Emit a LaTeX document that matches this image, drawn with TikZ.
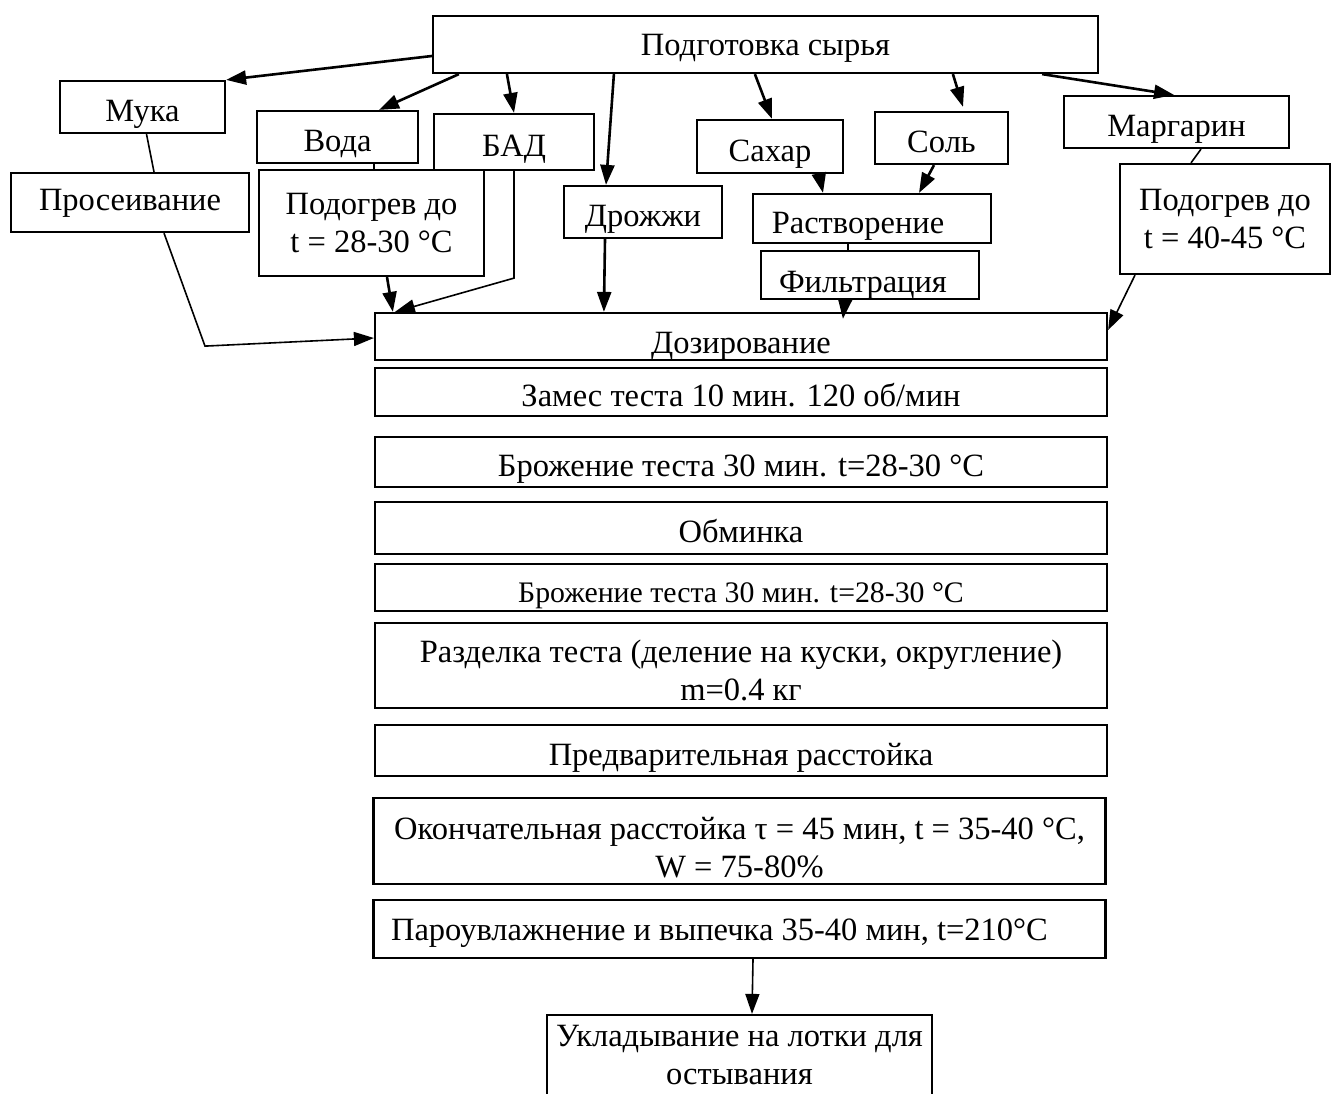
\documentclass[tikz,border=0pt]{standalone}
\usepackage{fontspec}
\setmainfont{Liberation Serif}
\usetikzlibrary{arrows.meta}

\begin{document}
\begin{tikzpicture}[x=1pt,y=-1pt,->,>={Triangle[length=20pt,width=14pt]},line width=2.6pt,
    box/.style={draw,line width=2.2pt,inner sep=2pt,align=center,font=\fontsize{32.5}{38}\selectfont},
    one line/.style={box,text height=29pt,text depth=0pt},
    wide box/.style={one line,minimum width=732pt},
    thin/.style={line width=1.6pt}]

            \useasboundingbox (0,0) rectangle (1332,1093);

            \node[one line, minimum width=665pt, minimum height=57pt, text height=22pt] (prep) at (765.5,44.5) {Подготовка сырья};
            \node[one line, minimum width=165pt, minimum height=52pt] (muka) at (142.5,107) {Мука};
            \node[one line, minimum width=161pt, minimum height=52pt] (voda) at (337.5,137) {Вода};
            \node[one line, minimum width=160pt, minimum height=56pt] (bad) at (514,142) {БАД};
            \node[one line, minimum width=238pt, minimum height=59pt, text height=15pt] (sift) at (130,202.5) {Просеивание};
            \node[box, minimum width=225pt, minimum height=106pt] (heatw) at (371.5,223) {Подогрев до\\t = 28-30 °C};
            \node[one line, minimum width=158pt, minimum height=52pt] (yeast) at (643,212) {Дрожжи};
            \node[one line, minimum width=146pt, minimum height=53pt] (sugar) at (770,146.5) {Сахар};
            \node[one line, minimum width=133pt, minimum height=52pt] (salt) at (941.5,138) {Соль};
            \node[one line, minimum width=225pt, minimum height=52pt] (marg) at (1176.5,122) {Маргарин};
            \node[box, minimum width=210pt, minimum height=110pt] (heatm) at (1225,219) {Подогрев до\\t = 40-45 °C};
            \node[one line, minimum width=238pt, minimum height=49pt] (diss) at (872,218.5) {Растворение\hspace*{28pt}};
            \node[one line, minimum width=218pt, minimum height=48pt, text height=34pt] (filt) at (870,275) {Фильтрация\hspace*{14pt}};

            % technological line
            \node[wide box, minimum height=47pt, text height=33pt] (dos) at (741,336.5) {Дозирование};
            \node[wide box, minimum height=48pt] (mix) at (741,392) {Замес теста 10 мин. 120 об/мин};
            \node[wide box, minimum height=50pt] (ferm1) at (741,462) {Брожение теста 30 мин. t=28-30 °C};
            \node[wide box, minimum height=52pt] (punch) at (741,528) {Обминка};
            \node[wide box, minimum height=47pt, font=\fontsize{29.8}{34}\selectfont] (ferm2) at (741,587.5) {Брожение теста 30 мин. t=28-30 °C};
            \node[box, minimum width=732pt, minimum height=85pt] (div) at (741,665.5) {\rule{0pt}{33pt}Разделка теста (деление на куски, округление)\\m=0.4 кг};
            \node[wide box, minimum height=51pt] (proof1) at (741,750.5) {Предварительная расстойка};
            \node[box, minimum width=732pt, minimum height=86pt] (proof2) at (739.5,841) {\rule{0pt}{35pt}Окончательная расстойка τ = 45 мин, t = 35-40 °C,\\W = 75-80\%};
            \node[wide box, minimum height=58pt, text height=22pt] (bake) at (739.5,929) {Пароувлажнение и выпечка 35-40 мин, t=210°C\hspace*{40pt}};
            \node[box, minimum width=385pt, minimum height=80pt] (cool) at (739.5,1055) {Укладывание на лотки для\\остывания};

            \draw[->] ([yshift=-11.5pt]prep.west) to (muka.north east);
            \draw[->] ([xshift=27pt]prep.south west) to ([xshift=41.5pt]voda.north);
            \draw[->] ([xshift=75pt]prep.south west) to (bad.north);
            \draw[->] ([xshift=182pt]prep.south west) to ([xshift=-37pt]yeast.north);
            \draw[->] ([xshift=323pt]prep.south west) to ([xshift=2pt]sugar.north);
            \draw[->] ([xshift=521pt]prep.south west) to ([xshift=21.5pt,yshift=4pt]salt.north);
            \draw[->] ([xshift=-57pt]prep.south east) to ([xshift=-2.5pt]marg.north);

            \draw[-,thin] ([xshift=4pt]muka.south) to ([xshift=24pt]sift.north);
            \draw[->,thin] ([xshift=34pt]sift.south) -- ++(41,113) -- ([yshift=-1.5pt]dos.west);
            \draw[-,thin] ([xshift=36.5pt]voda.south) to ([xshift=2.5pt]heatw.north);
            \draw[->] ([xshift=15.5pt]heatw.south) to ([xshift=19pt]dos.north west);
            \draw[->,thin] (bad.south) -- ++(0,107) -- ([xshift=21pt]dos.north west);
            \draw[->] ([xshift=-38pt]yeast.south) to ([xshift=230pt]dos.north west);
            \draw[->] ([xshift=49pt]sugar.south) to ([xshift=-49pt]diss.north);
            \draw[->] ([xshift=-7.5pt]salt.south) to ([xshift=47pt]diss.north);
            \draw[-,thin] ([xshift=-24pt]diss.south) to ([xshift=-22pt]filt.north);
            \draw[->] ([xshift=-25pt]filt.south) to ([xshift=469pt,yshift=-7pt]dos.north west);
            \draw[-,thin] ([xshift=24.5pt]marg.south) to ([xshift=-34pt]heatm.north);
            \draw[->,thin] ([xshift=-90pt]heatm.south) to ([yshift=6.5pt]dos.east);
            \draw[->,thin] ([xshift=13.5pt]bake.south) to ([xshift=12.5pt]cool.north);

        \end{tikzpicture}
\end{document}
